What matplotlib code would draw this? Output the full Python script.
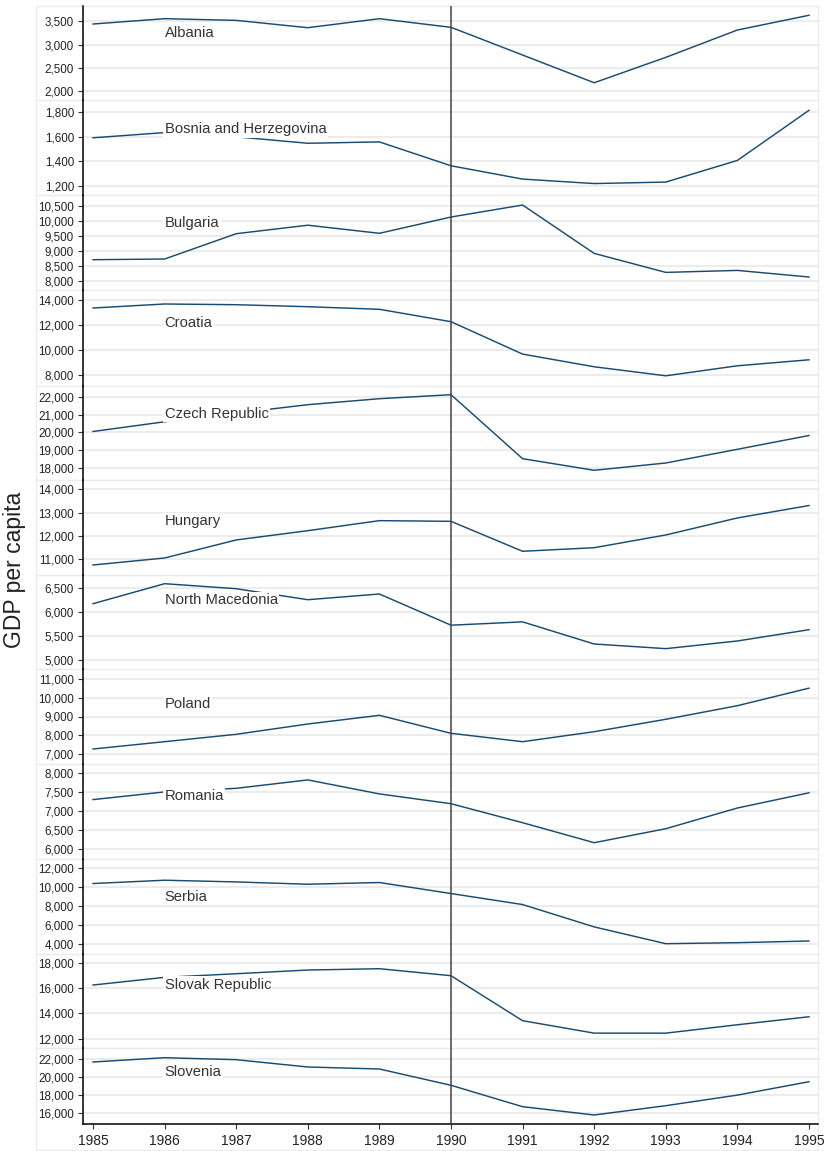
"""GDP per capita around 1990, one small panel per country."""
import matplotlib
import numpy as np

matplotlib.use("Agg")
from matplotlib import pyplot as plt
from matplotlib.patches import Rectangle
from matplotlib.ticker import FuncFormatter

years = list(range(1985, 1996))

countries = [
    "Albania", "Bosnia and Herzegovina", "Bulgaria", "Croatia", "Czech Republic",
    "Hungary", "North Macedonia", "Poland", "Romania", "Serbia",
    "Slovak Republic", "Slovenia",
]

albania = [3442, 3556, 3520, 3363, 3556, 3371, 2777, 2183, 2727, 3313, 3629]
bosnia = [1590, 1632, 1598, 1546, 1557, 1365, 1258, 1222, 1234, 1408, 1811]
bulgaria = [8700, 8723, 9567, 9850, 9580, 10123, 10523, 8910, 8277, 8343, 8123]
croatia = [13341, 13659, 13603, 13444, 13238, 12254, 9682, 8675, 7960, 8754, 9230]
czech = [20056, 20600, 21080, 21555, 21888, 22112, 18537, 17888, 18296, 19061, 19832]
hungary = [10756, 11056, 11829, 12227, 12657, 12627, 11343, 11497, 12043, 12772, 13305]
north_macedonia = [6173, 6590, 6485, 6256, 6375, 5725, 5794, 5333, 5236, 5396, 5631]
poland = [7280, 7667, 8058, 8603, 9063, 8111, 7667, 8196, 8852, 9571, 10500]
romania = [7308, 7510, 7605, 7826, 7458, 7200, 6700, 6174, 6542, 7087, 7487]
serbia = [10391, 10740, 10560, 10317, 10497, 9333, 8170, 5806, 4032, 4138, 4317]
slovakia = [16237, 16845, 17130, 17421, 17526, 16974, 13421, 12439, 12439, 13100, 13732]
slovenia = [21698, 22179, 21955, 21140, 20916, 19095, 16704, 15777, 16816, 18000, 19497]

series = [
    albania, bosnia, bulgaria, croatia, czech, hungary,
    north_macedonia, poland, romania, serbia, slovakia, slovenia,
]

y_ticks = [
    [2000, 2500, 3000, 3500],
    [1200, 1400, 1600, 1800],
    [8000, 8500, 9000, 9500, 10000, 10500],
    [8000, 10000, 12000, 14000],
    [18000, 19000, 20000, 21000, 22000],
    [11000, 12000, 13000, 14000],
    [5000, 5500, 6000, 6500],
    [7000, 8000, 9000, 10000, 11000],
    [6000, 6500, 7000, 7500, 8000],
    [4000, 6000, 8000, 10000, 12000],
    [12000, 14000, 16000, 18000],
    [16000, 18000, 20000, 22000],
]

y_limits = [
    (1813, 3828), (1130, 1894), (7690, 10857), (7150, 14770),
    (17346, 22598), (10327, 14399), (4812, 6771), (6487, 11513),
    (5745, 8245), (2942, 12984), (11266, 18687), (14771, 23262),
]

# layout (pixels of the 825x1151 canvas)
W, H = 825, 1151
panel_edges = [6, 100, 195, 290, 386, 480, 575, 669, 764, 859, 954, 1048, 1124]
plot_left, plot_right, frame_left = 83, 818, 36
label_frac = [0.287, 0.308, 0.298, 0.341, 0.298, 0.435, 0.266, 0.372, 0.337, 0.40, 0.327, 0.32]

LINE = "#1a4a72"
GRID = "#e9e9e9"
FRAME = "#ececec"
TEXT = "#222222"

plt.rcParams["font.family"] = ["Liberation Sans", "DejaVu Sans"]

fig = plt.figure(figsize=(W / 100, H / 100), dpi=100)
fig.patch.set_facecolor("white")

thousands = FuncFormatter(lambda v, _: f"{int(v):,}")
n = len(countries)
for i, (name, values) in enumerate(zip(countries, series)):
    top, bottom = panel_edges[i], panel_edges[i + 1]
    frame_bottom = H - 1 if i == n - 1 else bottom
    fig.add_artist(Rectangle(
        (frame_left / W, 1 - frame_bottom / H),
        (plot_right - frame_left) / W,
        (frame_bottom - top) / H,
        transform=fig.transFigure, fill=False, edgecolor=FRAME, linewidth=1.0, zorder=0,
    ))
    ax = fig.add_axes([
        plot_left / W, 1 - bottom / H,
        (plot_right - plot_left) / W, (bottom - top) / H,
    ])
    ax.set_facecolor("none")
    ax.plot(years, values, color=LINE, linewidth=1.05, zorder=3)
    ax.axvline(1990, color="#444444", linewidth=1.1, zorder=4)
    ax.set_xlim(1984.86, 1995.126)
    ax.set_ylim(*y_limits[i])
    ax.set_yticks(y_ticks[i])
    ax.yaxis.set_major_formatter(thousands)
    ax.grid(True, axis="y", color=GRID, linewidth=1.2, zorder=0)
    ax.set_axisbelow(True)
    for side in ("top", "right", "bottom"):
        ax.spines[side].set_visible(False)
    ax.spines["left"].set_color("black")
    ax.spines["left"].set_linewidth(1.1)
    ax.tick_params(axis="y", length=3.6, width=0.8, color="#333333", pad=2.9,
                   labelsize=8.4, labelcolor=TEXT)
    ax.text(1986, 1 - label_frac[i], name, transform=ax.get_xaxis_transform(),
            ha="left", va="center", fontsize=10.6, color="#333333", zorder=5,
            bbox=dict(facecolor="white", edgecolor="none", pad=1.0))
    if i == n - 1:
        ax.spines["bottom"].set_visible(True)
        ax.spines["bottom"].set_color("black")
        ax.spines["bottom"].set_linewidth(1.1)
        ax.set_xticks(years)
        ax.tick_params(axis="x", length=3.6, width=0.8, color="#333333", pad=3.5,
                       labelsize=10, labelcolor=TEXT)
    else:
        ax.set_xticks([])

fig.text(15 / W, 1 - 570 / H, "GDP per capita", rotation=90, ha="center", va="center",
         fontsize=16.5, color=TEXT)

fig.savefig("out.png", dpi=100)
plt.close(fig)
